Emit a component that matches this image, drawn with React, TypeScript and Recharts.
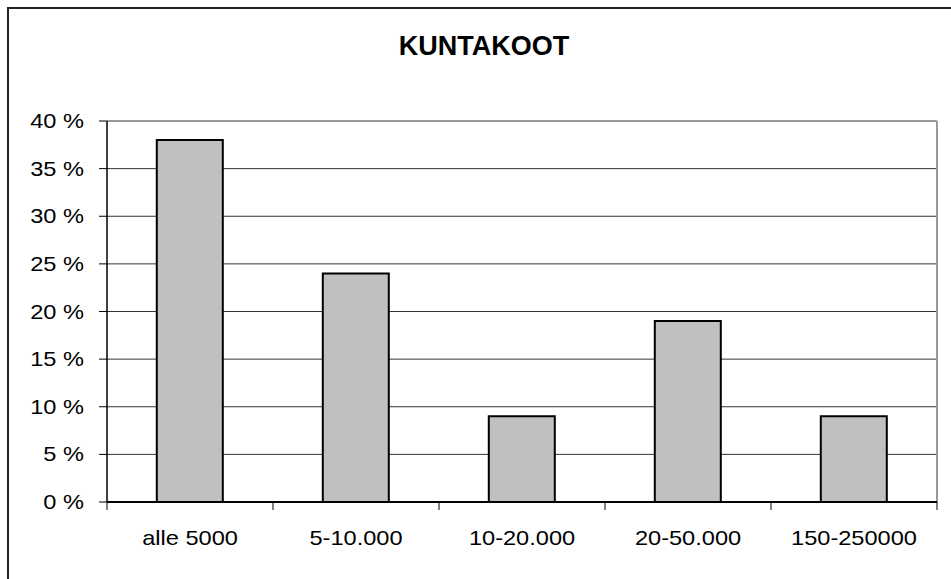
import { Bar, BarChart, CartesianGrid, ReferenceLine, XAxis, YAxis } from 'recharts';

const CATEGORIES = ['alle 5000', '5-10.000', '10-20.000', '20-50.000', '150-250000'];
const SHARES = [38, 24, 9, 19, 9];
const Y_TICKS = [0, 5, 10, 15, 20, 25, 30, 35, 40];

const data = CATEGORIES.map((name, i) => ({ name, value: SHARES[i] }));

const FONT = 'Arial, "Liberation Sans", sans-serif';
// the original labels look horizontally stretched
const STRETCH = 1.18;

function CategoryTick(props: any) {
  const { x, y, payload, index, visibleTicksCount } = props;
  const half = payload?.offset ?? 0;
  const last = index === visibleTicksCount - 1;
  return (
    <g>
      <line x1={x - half} x2={x - half} y1={y} y2={y + 8} stroke="#000" strokeWidth={1} />
      {last && <line x1={x + half} x2={x + half} y1={y} y2={y + 8} stroke="#000" strokeWidth={1} />}
      <text
        transform={`translate(${x},${y + 43}) scale(${STRETCH},1)`}
        x={0}
        y={0}
        textAnchor="middle"
        fontSize={20}
        fontFamily={FONT}
        fill="#000"
      >
        {payload.value}
      </text>
    </g>
  );
}

function PercentTick(props: any) {
  const { x, y, payload } = props;
  return (
    <text
      transform={`translate(${x},${y + 7}) scale(${STRETCH},1)`}
      x={0}
      y={0}
      textAnchor="end"
      fontSize={20}
      fontFamily={FONT}
      fill="#000"
    >
      {`${payload.value} %`}
    </text>
  );
}

export default function App() {
  return (
    <div style={{ position: 'absolute', left: 0, top: 0, width: 951, height: 579, overflow: 'hidden', background: '#fff', fontFamily: FONT }}>
      <div
        style={{
          position: 'absolute',
          left: 7,
          top: 7,
          width: 980,
          height: 600,
          borderTop: '2px solid #222',
          borderLeft: '2px solid #222',
        }}
      />
      <div
        style={{
          position: 'absolute',
          left: 0,
          width: 968,
          top: 33,
          lineHeight: '27px',
          textAlign: 'center',
          fontSize: 27,
          fontWeight: 'bold',
          color: '#000',
        }}
      >
        KUNTAKOOT
      </div>
      <div style={{ position: 'absolute', left: 0, top: 0 }}>
        <BarChart
          width={951}
          height={579}
          data={data}
          margin={{ top: 121, right: 14, bottom: 27, left: 0 }}
          barCategoryGap="30%"
        >
          <CartesianGrid horizontal vertical={false} stroke="#333" strokeWidth={1} />
          <CartesianGrid
            horizontal={false}
            vertical
            stroke="#999"
            strokeWidth={2}
            verticalCoordinatesGenerator={({ offset }: any) => [offset.left + offset.width]}
          />
          <XAxis
            dataKey="name"
            height={50}
            axisLine={{ stroke: '#000', strokeWidth: 2 }}
            tickLine={false}
            tickSize={0}
            tickMargin={0}
            tick={<CategoryTick />}
            interval={0}
          />
          <YAxis
            width={107}
            domain={[0, 40]}
            ticks={Y_TICKS}
            axisLine={{ stroke: '#000', strokeWidth: 1.5 }}
            tickLine={{ stroke: '#000' }}
            tickSize={8}
            tickMargin={15}
            tick={<PercentTick />}
          />
          <ReferenceLine y={40} stroke="#999" strokeWidth={2} />
          <Bar dataKey="value" fill="#C0C0C0" stroke="#000" strokeWidth={2} isAnimationActive={false} />
        </BarChart>
      </div>
    </div>
  );
}
